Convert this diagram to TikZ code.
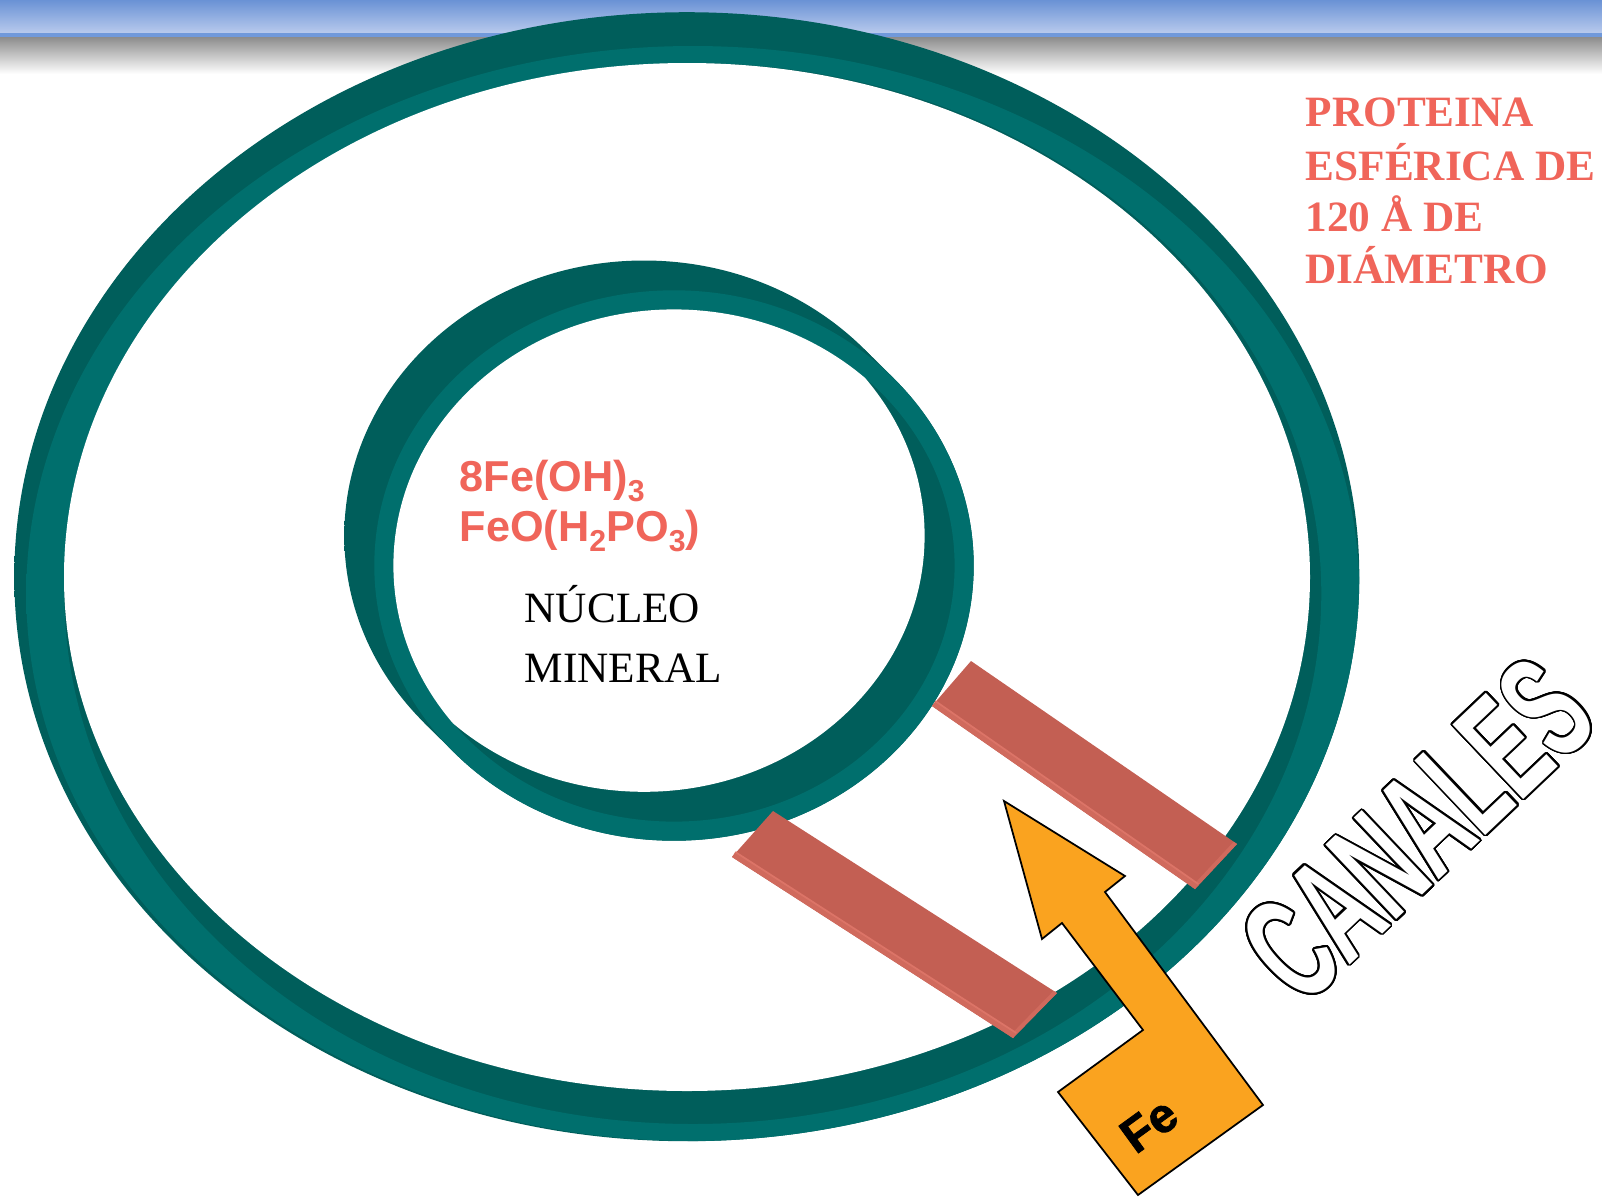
\documentclass[tikz,border=0pt]{standalone}
\usepackage{fontspec}
\setmainfont{Liberation Serif}
\newfontfamily\chemfont{Liberation Sans}
\newfontfamily\fefont{Liberation Sans}[BoldFeatures={FakeBold=1.6}]
\newfontfamily\canalfont{Liberation Sans}[FakeStretch=0.57]
\usepackage{contour}
\contourlength{0.5pt}
\contournumber{32}
\usetikzlibrary{calc}

\definecolor{barblue}{HTML}{6A92D5}
\definecolor{barbluelight}{HTML}{B8CAED}
\definecolor{barblueline}{HTML}{7099DB}
\definecolor{bargrey}{HTML}{8C8C8C}
\definecolor{tealA}{HTML}{005E5B}
\definecolor{tealB}{HTML}{007673}
\definecolor{tealC}{HTML}{006F6D}
\definecolor{tealD}{HTML}{008380}
\definecolor{salmon}{HTML}{F0655A}
\definecolor{brick}{HTML}{C35F53}
\definecolor{brickedge}{HTML}{D06A5D}
\definecolor{brickline}{HTML}{DC7467}
\definecolor{feorange}{HTML}{FAA31F}

\newcommand\chemsub[1]{\raisebox{-2.8pt}{\fontsize{8.6}{9}\selectfont #1}}

\tikzset{
  rimdark/.style={top color=tealA, middle color=tealB, bottom color=tealA},
  rimlight/.style={top color=tealC, middle color=tealD, bottom color=tealC},
  redlabel/.style={inner sep=0pt, anchor=base west, text=salmon,
    font=\fontsize{12.3}{14}\selectfont\bfseries},
  chemlabel/.style={inner sep=0pt, anchor=base west, text=salmon,
    font=\chemfont\fontsize{12.3}{14}\selectfont\bfseries},
  corelabel/.style={inner sep=0pt, anchor=base west, text=black,
    font=\fontsize{12.3}{14}\selectfont},
  bar/.style={fill=brick},
  baredge/.style={fill=brickedge},
  barline/.style={draw=brickline, line width=0.5pt},
  bentarrow/.style={fill=feorange, draw=black, line width=0.5pt, line join=miter},
}

\begin{document}
\begin{tikzpicture}[x=0.01cm, y=-0.01cm]
\useasboundingbox (0,0) rectangle (1602,1196);
\fill[white] (0,0) rectangle (1602,1196);

% title bar
\shade[top color=barblue, bottom color=barbluelight] (0,0) rectangle (1602,33);
\fill[barblueline] (0,33) rectangle (1602,37);
\shade[top color=bargrey, bottom color=white] (0,37) rectangle (1602,74);

% ---------------- outer protein shell ----------------
\begin{scope}
  \clip (686.8,576.7) ellipse [x radius=672.5, y radius=564.5];
  \shade[rimdark] (14,12) rectangle (1360,1142);
  \begin{scope}[even odd rule]
    \clip (692.8,593.5) ellipse [x radius=666.5, y radius=547.5]
          (692.8,593.5) ellipse [x radius=628.5, y radius=530.5];
    \shade[rimlight] (14,12) rectangle (1360,1142);
  \end{scope}
\end{scope}
\fill[white] (687,577) ellipse [x radius=623, y radius=514];

% ---------------- mineral core shell ----------------
\begin{scope}
  \clip (644,535.7) ellipse [x radius=299.7, y radius=275.2];
  \shade[rimdark] (344,260) rectangle (974,841);
\end{scope}
\begin{scope}
  \clip (674,565.5) ellipse [x radius=299.7, y radius=275.2];
  \shade[rimdark] (344,260) rectangle (974,841);
\end{scope}
\begin{scope}
  \clip (864.0,348.8) -- (894.0,378.6) -- (454.0,752.4) -- (424.0,722.6) -- cycle;
  \shade[rimdark] (344,260) rectangle (974,841);
\end{scope}
\begin{scope}[even odd rule]
  \clip (674,565.5) ellipse [x radius=299.7, y radius=275.2]
        (674,565.5) ellipse [x radius=280.6, y radius=256.1];
  \shade[rimlight] (344,260) rectangle (974,841);
\end{scope}
\begin{scope}
  \clip (644,535.7) ellipse [x radius=280.6, y radius=256.1];
  \fill[white] (674,565.5) ellipse [x radius=280.6, y radius=256.1];
\end{scope}

% ---------------- channels ----------------
% upper channel
\coordinate (c1tl) at (971,661);
\coordinate (c1tr) at (1237,844);
\coordinate (c1br) at (1195,889);
\coordinate (c1bl) at (932,706);
\fill[bar] (c1tl) -- (c1tr) -- (c1br) -- (c1bl) -- cycle;
\fill[baredge] (c1bl) -- (c1br) -- ($(c1br)+(3.4,-4.9)$) -- ($(c1bl)+(3.4,-4.9)$) -- cycle;
\fill[baredge] (c1tr) -- (c1br) -- ($(c1br)+(-3.3,-2.3)$) -- ($(c1tr)+(-3.3,-2.3)$) -- cycle;
\draw[barline] ($(c1bl)+(3.4,-4.9)$) -- ($(c1br)+(3.4,-4.9)$);
% lower channel
\coordinate (c2tl) at (773,811);
\coordinate (c2tr) at (1057,993);
\coordinate (c2br) at (1013,1038);
\coordinate (c2bl) at (732,857);
\fill[bar] (c2tl) -- (c2tr) -- (c2br) -- (c2bl) -- cycle;
\fill[baredge] (c2bl) -- (c2br) -- ($(c2br)+(3.3,-5.0)$) -- ($(c2bl)+(3.3,-5.0)$) -- cycle;
\fill[baredge] (c2tr) -- (c2br) -- ($(c2br)+(-3.4,-2.2)$) -- ($(c2tr)+(-3.4,-2.2)$) -- cycle;
\draw[barline] ($(c2bl)+(3.3,-5.0)$) -- ($(c2br)+(3.3,-5.0)$);

% ---------------- iron entry arrow ----------------
\coordinate (atip) at (1004,801);
\coordinate (arb) at (1125,876);
\coordinate (arn) at (1105,892);
\coordinate (arc) at (1263,1105);
\coordinate (abot) at (1138,1195);
\coordinate (abl) at (1058,1092);
\coordinate (asc) at (1143,1030);
\coordinate (aln) at (1062,923);
\coordinate (alb) at (1042,939);
\draw[bentarrow] (atip) -- (arb) -- (arn) -- (arc) -- (abot) -- (abl) -- (asc) -- (aln) -- (alb) -- cycle;
\node[inner sep=0pt, rotate=36, font=\fefont\fontsize{13.8}{15}\selectfont\bfseries]
  (fe) at (1149,1125) {Fe};

% ---------------- labels ----------------
\node[redlabel] (prot1) at (1305,126.7) {PROTEINA};
\node[redlabel] (prot2) at (1305,180) {ESFÉRICA DE};
\node[redlabel] (prot3) at (1305,231.7) {120 Å DE};
\node[redlabel] (prot4) at (1305,283.3) {DIÁMETRO};

\node[chemlabel] (chem1) at (459,491.7) {8Fe(OH)\chemsub{3}};
\node[chemlabel] (chem2) at (459,541.7) {FeO(H\chemsub{2}PO\chemsub{3})};

\node[corelabel] (core1) at (524,622.7) {NÚCLEO};
\node[corelabel] (core2) at (524,682.7) {MINERAL};

\node[inner sep=0pt, rotate=43.5, text=white,
  font=\canalfont\fontsize{42.5}{46}\selectfont\bfseries]
  (canales) at (1418,830) {\contour{black}{CANALES}};
\end{tikzpicture}
\end{document}
